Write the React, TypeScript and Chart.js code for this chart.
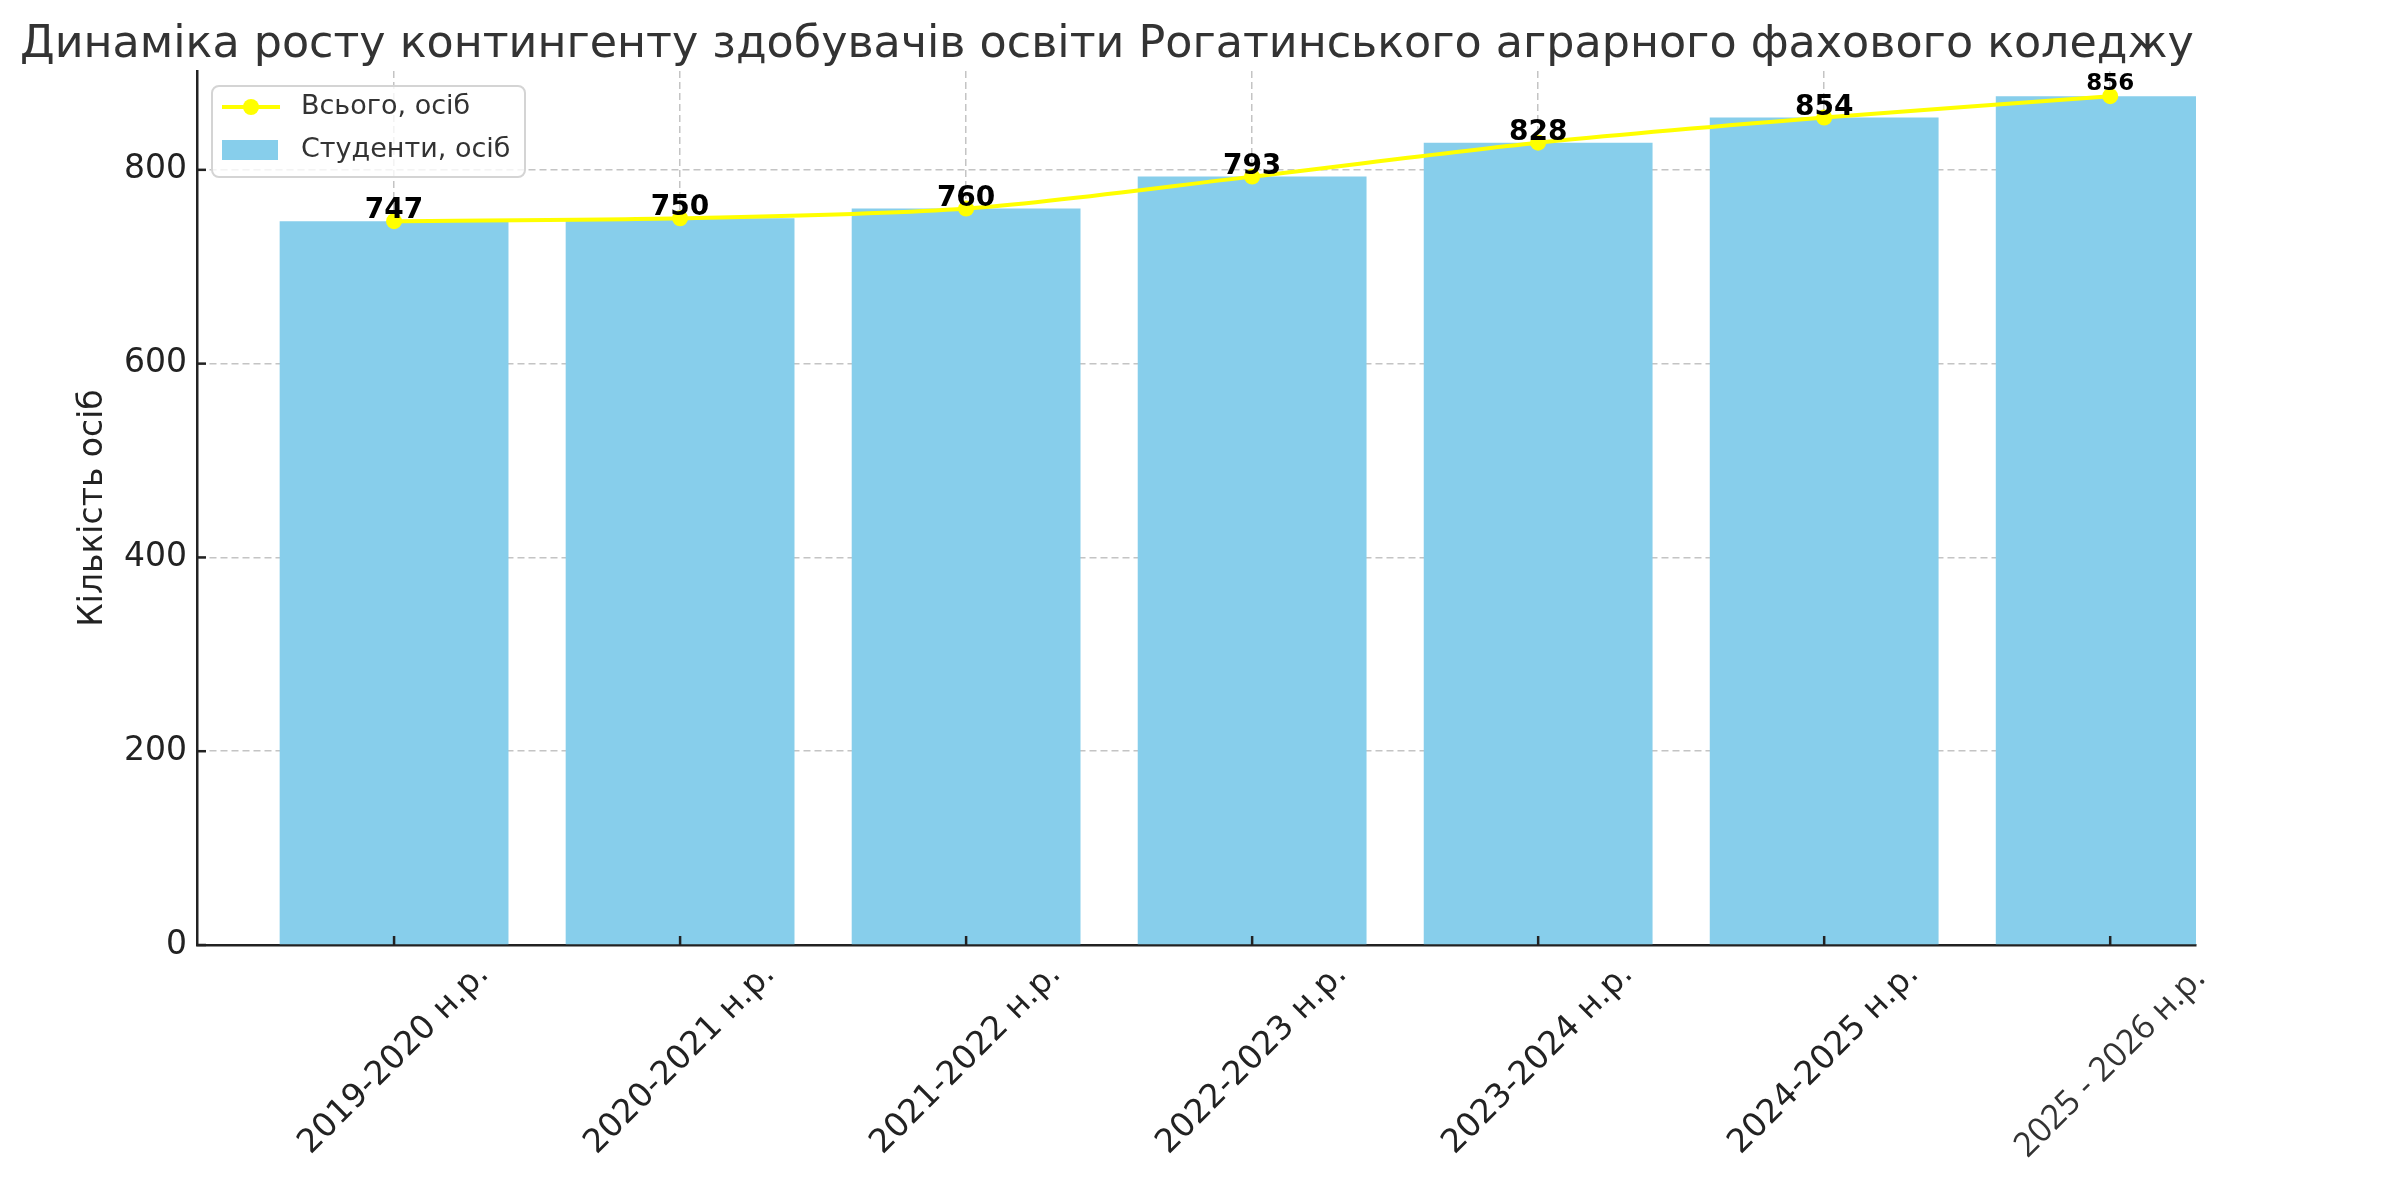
import React, { useEffect, useRef } from "react";
import { Chart, registerables } from "chart.js";

Chart.register(...registerables);

const chartTitle = "Динаміка росту контингенту здобувачів освіти Рогатинського аграрного фахового коледжу";
const yAxisTitle = "Кількість осіб";
const categories = [
  "2019-2020 н.р.",
  "2020-2021 н.р.",
  "2021-2022 н.р.",
  "2022-2023 н.р.",
  "2023-2024 н.р.",
  "2024-2025 н.р.",
  "2025 - 2026 н.р.",
];
const totalValues = [747, 750, 760, 793, 828, 854, 876];
const studentValues = [747, 750, 760, 793, 828, 854, 876];
const valueLabels = ["747", "750", "760", "793", "828", "854", "856"];
const yTicks = [0, 200, 400, 600, 800];
const legendLabels = ["Всього, осіб", "Студенти, осіб"];

const BAR_COLOR = "#87CEEB";
const LINE_COLOR = "#FFFF00";
const FONT = "DejaVu Sans";

const W = 2391;
const H = 1164;

const overlayPlugin = {
  id: "overlay",
  afterDraw(chart: any) {
    const { ctx, chartArea } = chart;
    const xs = chart.scales.x;
    const ys = chart.scales.y;
    ctx.save();

    // inward tick marks
    ctx.strokeStyle = "#222";
    ctx.lineWidth = 2.5;
    categories.forEach((_, i) => {
      const px = xs.getPixelForValue(i);
      if (px > chartArea.right + 1) return;
      ctx.beginPath();
      ctx.moveTo(px, chartArea.bottom);
      ctx.lineTo(px, chartArea.bottom - 9);
      ctx.stroke();
    });
    yTicks.forEach((v) => {
      const py = ys.getPixelForValue(v);
      ctx.beginPath();
      ctx.moveTo(chartArea.left, py);
      ctx.lineTo(chartArea.left + 9, py);
      ctx.stroke();
    });

    // value labels
    ctx.fillStyle = "#000";
    ctx.textAlign = "center";
    ctx.textBaseline = "alphabetic";
    valueLabels.forEach((t, i) => {
      const last = i === valueLabels.length - 1;
      ctx.font = last ? `bold 23px "${FONT}"` : `bold 28px "${FONT}"`;
      const px = xs.getPixelForValue(i);
      const py = ys.getPixelForValue(totalValues[i]);
      ctx.fillText(t, px, py - (last ? 6 : 3));
    });

    // rotated x labels
    categories.forEach((t, i) => {
      const last = i === categories.length - 1;
      const size = last ? 34 : 33;
      ctx.font = last ? `${size}px "Open Sans"` : `${size}px "${FONT}"`;
      const w = ctx.measureText(t).width;
      const half = (w + size * 0.9) / (2 * Math.SQRT2);
      const px = xs.getPixelForValue(i);
      const cy = chartArea.bottom + (last ? 17 : 14) + half;
      ctx.save();
      ctx.translate(px, cy);
      ctx.rotate(-Math.PI / 4);
      ctx.fillStyle = last ? "#333" : "#222";
      ctx.textAlign = "center";
      ctx.textBaseline = "middle";
      ctx.fillText(t, 0, 0);
      ctx.restore();
    });

    // title
    ctx.font = `44.4px "${FONT}"`;
    ctx.fillStyle = "#333";
    ctx.textAlign = "left";
    ctx.textBaseline = "alphabetic";
    ctx.fillText(chartTitle, 12, 49);

    // legend
    const lx = 204, ly = 78, lw = 313, lh = 91;
    ctx.beginPath();
    const r = 7;
    ctx.moveTo(lx + r, ly);
    ctx.arcTo(lx + lw, ly, lx + lw, ly + lh, r);
    ctx.arcTo(lx + lw, ly + lh, lx, ly + lh, r);
    ctx.arcTo(lx, ly + lh, lx, ly, r);
    ctx.arcTo(lx, ly, lx + lw, ly, r);
    ctx.closePath();
    ctx.fillStyle = "rgba(255,255,255,0.8)";
    ctx.fill();
    ctx.strokeStyle = "#d4d4d4";
    ctx.lineWidth = 2;
    ctx.stroke();

    const row1 = ly + 21;
    const row2 = ly + 64;
    ctx.strokeStyle = LINE_COLOR;
    ctx.lineWidth = 4;
    ctx.beginPath();
    ctx.moveTo(lx + 10, row1);
    ctx.lineTo(lx + 68, row1);
    ctx.stroke();
    ctx.fillStyle = LINE_COLOR;
    ctx.beginPath();
    ctx.arc(lx + 39, row1, 8, 0, Math.PI * 2);
    ctx.fill();
    ctx.fillStyle = BAR_COLOR;
    ctx.fillRect(lx + 10, row2 - 10, 56, 20);

    ctx.fillStyle = "#333";
    ctx.font = `27px "${FONT}"`;
    ctx.textBaseline = "middle";
    ctx.fillText(legendLabels[0], lx + 89, row1);
    ctx.fillText(legendLabels[1], lx + 89, row2);

    ctx.restore();
  },
};

export default function App() {
  const ref = useRef<HTMLCanvasElement | null>(null);

  useEffect(() => {
    if (!ref.current) return;
    const chart = new Chart(ref.current, {
      type: "bar",
      data: {
        datasets: [
          {
            type: "line",
            label: legendLabels[0],
            data: categories.map((_, i) => ({ x: i, y: totalValues[i] })),
            borderColor: LINE_COLOR,
            backgroundColor: LINE_COLOR,
            borderWidth: 4,
            pointRadius: 8,
            pointBorderWidth: 0,
            pointBackgroundColor: LINE_COLOR,
            tension: 0.3,
            order: 0,
          } as any,
          {
            type: "bar",
            label: legendLabels[1],
            data: categories.map((_, i) => ({ x: i, y: studentValues[i] })),
            backgroundColor: BAR_COLOR,
            borderWidth: 0,
            barPercentage: 0.8,
            categoryPercentage: 1.0,
            order: 1,
          } as any,
        ],
      },
      options: {
        responsive: false,
        animation: false,
        devicePixelRatio: 1,
        layout: { padding: { left: 0, top: 63, right: 203, bottom: 0 } },
        plugins: {
          legend: { display: false },
          title: { display: false },
          tooltip: { enabled: false },
        },
        scales: {
          x: {
            type: "linear",
            min: -0.689,
            max: 6.3,
            offset: false,
            z: 1,
            afterBuildTicks: (s: any) => {
              s.ticks = categories.map((_, i) => ({ value: i }));
            },
            afterFit: (s: any) => {
              s.height = 227;
            },
            ticks: { display: false },
            grid: {
              offset: false,
              color: "#c4c4c4",
              lineWidth: 1.5,
              drawTicks: false,
            },
            border: { display: true, color: "#222", width: 2.5, dash: [7, 4] } as any,
          } as any,
          y: {
            type: "linear",
            min: 0,
            max: 902,
            z: 1,
            afterBuildTicks: (s: any) => {
              s.ticks = yTicks.map((v) => ({ value: v }));
            },
            afterFit: (s: any) => {
              s.width = 189;
            },
            ticks: {
              color: "#222",
              padding: 10,
              font: { family: FONT, size: 33 },
            },
            grid: {
              color: "#c4c4c4",
              lineWidth: 1.5,
              drawTicks: false,
            },
            border: { display: true, color: "#222", width: 2.5, dash: [7, 4] } as any,
            title: {
              display: true,
              text: yAxisTitle,
              color: "#222",
              font: { family: FONT, size: 33 },
              padding: { top: 66, bottom: 0 },
            },
          } as any,
        },
      },
      plugins: [overlayPlugin],
    });
    return () => chart.destroy();
  }, []);

  return (
    <div style={{ width: W, height: H }}>
      <canvas ref={ref} width={W} height={H} style={{ width: W, height: H }} />
    </div>
  );
}
